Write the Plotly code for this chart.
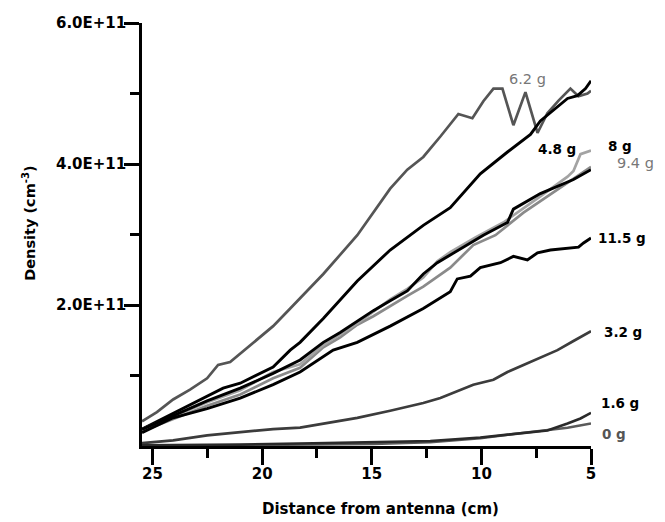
import plotly.graph_objects as go

# ---- data: distance from antenna (cm) and density (units of 1e11 cm^-3) ----
dist_6_2 = [25.48, 24.80, 24.06, 23.29, 22.51, 22.01, 21.46, 21.00, 20.23, 19.50, 18.72, 17.21, 15.66,
            14.16, 13.38, 12.65, 11.87, 11.55, 11.05, 10.41, 9.91, 9.45, 9.04, 8.54, 7.99, 7.44, 6.99,
            6.48, 5.94, 5.57, 5.16, 5.00]
dens_6_2 = [0.35, 0.48, 0.66, 0.80, 0.96, 1.15, 1.19, 1.31, 1.51, 1.70, 1.95, 2.44, 2.99,
            3.65, 3.92, 4.10, 4.39, 4.51, 4.71, 4.65, 4.89, 5.07, 5.07, 4.55, 5.02, 4.44, 4.72,
            4.90, 5.07, 4.96, 5.00, 5.04]

dist_4_8 = [25.48, 24.06, 22.51, 21.78, 21.00, 20.23, 19.50, 18.72, 18.27, 17.21, 15.66, 14.16, 12.65,
            11.42, 10.96, 10.05, 8.81, 7.76, 7.31, 6.71, 6.07, 5.62, 5.25, 5.00]
dens_4_8 = [0.24, 0.46, 0.71, 0.82, 0.89, 1.01, 1.12, 1.36, 1.47, 1.81, 2.34, 2.78, 3.13,
            3.38, 3.54, 3.86, 4.17, 4.42, 4.61, 4.76, 4.93, 4.97, 5.07, 5.18]

dist_8 = [25.48, 22.51, 21.00, 19.50, 18.27, 17.21, 16.44, 15.66, 14.93, 14.16, 13.38, 12.65, 12.01,
          11.42, 9.91, 8.81, 8.54, 7.31, 5.80, 5.00]
dens_8 = [0.235, 0.64, 0.82, 1.03, 1.22, 1.47, 1.61, 1.77, 1.92, 2.06, 2.20, 2.44, 2.60,
          2.71, 2.99, 3.17, 3.36, 3.58, 3.78, 3.92]

dist_9_4 = [25.48, 22.51, 21.00, 19.50, 18.27, 17.21, 15.66, 14.16, 13.38, 12.65, 12.01, 11.42, 10.27,
            9.00, 7.31, 6.07, 5.80, 5.48, 5.00]
dens_9_4 = [0.235, 0.62, 0.79, 1.05, 1.16, 1.43, 1.74, 2.08, 2.23, 2.39, 2.62, 2.75, 2.96,
            3.17, 3.54, 3.82, 3.90, 4.14, 4.19]

dist_9_4b = [25.48, 22.51, 21.00, 19.50, 18.27, 17.21, 16.44, 15.66, 14.93, 14.16, 13.38, 12.65, 11.42,
             10.37, 9.36, 8.08, 6.53, 5.48, 5.00]
dens_9_4b = [0.21, 0.57, 0.73, 0.96, 1.11, 1.40, 1.54, 1.72, 1.84, 1.99, 2.13, 2.26, 2.53,
             2.85, 2.99, 3.31, 3.64, 3.86, 3.96]

dist_11_5 = [25.48, 24.06, 22.51, 21.00, 19.50, 18.27, 16.76, 15.66, 14.16, 12.65, 11.42, 11.10, 10.50,
             10.05, 9.13, 8.54, 7.90, 7.44, 6.85, 6.07, 5.57, 5.34, 5.00]
dens_11_5 = [0.19, 0.40, 0.53, 0.68, 0.87, 1.05, 1.36, 1.47, 1.70, 1.95, 2.19, 2.37, 2.41,
             2.53, 2.60, 2.69, 2.64, 2.74, 2.78, 2.81, 2.82, 2.88, 2.95]

dist_3_2 = [25.48, 24.06, 22.51, 21.00, 19.50, 18.27, 17.21, 15.66, 14.16, 12.65, 11.87, 11.10, 10.37,
            9.45, 8.81, 8.08, 7.31, 6.53, 5.80, 5.00]
dens_3_2 = [0.04, 0.08, 0.15, 0.19, 0.24, 0.26, 0.32, 0.40, 0.50, 0.61, 0.68, 0.78, 0.87,
            0.94, 1.05, 1.15, 1.26, 1.36, 1.49, 1.63]

dist_1_6 = [25.48, 21.00, 17.67, 12.33, 10.05, 8.54, 6.99, 6.07, 5.48, 5.00]
dens_1_6 = [0.01, 0.02, 0.04, 0.07, 0.12, 0.17, 0.22, 0.32, 0.39, 0.47]

dist_0 = [25.48, 21.00, 14.93, 12.33, 10.05, 8.54, 7.31, 6.07, 5.00]
dens_0 = [0.0, 0.01, 0.03, 0.055, 0.11, 0.17, 0.22, 0.26, 0.32]

x_ticks = [25, 20, 15, 10, 5]
x_minor = [22.5, 17.5, 12.5, 7.5]
y_ticks = [2.0, 4.0, 6.0]
y_tick_text = ["2.0E+11", "4.0E+11", "6.0E+11"]
y_minor = [1.0, 3.0, 5.0]
SCALE = 1e11
X_RANGE = [25.48, 5.0]
Y_RANGE = [0.0, 6.0]

series = [
    ("6.2 g", dist_6_2, dens_6_2, "#555555", 2.7),
    ("4.8 g", dist_4_8, dens_4_8, "#000000", 2.9),
    ("9.4 g b", dist_9_4b, dens_9_4b, "#8a8a8a", 2.7),
    ("9.4 g", dist_9_4, dens_9_4, "#a3a3a3", 2.7),
    ("8 g", dist_8, dens_8, "#000000", 2.9),
    ("11.5 g", dist_11_5, dens_11_5, "#000000", 2.9),
    ("3.2 g", dist_3_2, dens_3_2, "#3c3c3c", 2.7),
    ("0 g", dist_0, dens_0, "#5a5a5a", 2.6),
    ("1.6 g", dist_1_6, dens_1_6, "#2a2a2a", 2.6),
]

# label text, position (cm, density 1e11) of label's left/middle, colour, bold
labels = [
    ("6.2 g", 8.81, 5.20, "#777777", False),
    ("4.8 g", 7.53, 4.21, "#000000", True),
    ("8 g", 4.30, 4.26, "#000000", True),
    ("9.4 g", 3.90, 4.01, "#777777", False),
    ("11.5 g", 4.75, 2.95, "#000000", True),
    ("3.2 g", 4.50, 1.62, "#000000", True),
    ("1.6 g", 4.65, 0.61, "#000000", True),
    ("0 g", 4.60, 0.17, "#555555", True),
]

FONT = "DejaVu Sans"

# page has an 8px body margin; figure is sized so that it fits the 665x522 window
W, H = 657, 514
ML, MR, MT, MB = 134, 74, 6, 76
PW, PH = W - ML - MR, H - MT - MB


def page_x(p):  # page pixel -> paper x
    return (p - 8 - ML) / PW


def page_y(p):  # page pixel -> paper y
    return (H - MB - (p - 8)) / PH


def data_x(cm):
    return (X_RANGE[0] - cm) / (X_RANGE[0] - X_RANGE[1])


def data_y(v):
    return (v - Y_RANGE[0]) / (Y_RANGE[1] - Y_RANGE[0])


fig = go.Figure()
for name, xs, ys, col, w in series:
    fig.add_trace(go.Scatter(x=xs, y=[v * SCALE for v in ys], mode="lines", name=name,
                             line=dict(color=col, width=w), showlegend=False))

for text, lx, ly, col, bold in labels:
    fig.add_annotation(x=data_x(lx), y=data_y(ly), xref="paper", yref="paper", text=text,
                       showarrow=False, xanchor="left", yanchor="middle",
                       font=dict(family=FONT, size=13.5 if bold else 14.5, color=col,
                                 weight="bold" if bold else "normal"))

fig.add_annotation(x=page_x(380), y=page_y(510), xref="paper", yref="paper",
                   xanchor="center", yanchor="middle",
                   text="Distance from antenna (cm)", showarrow=False,
                   font=dict(family=FONT, size=15, color="black", weight="bold"))
fig.add_annotation(x=page_x(29), y=page_y(218), xref="paper", yref="paper",
                   xanchor="center", yanchor="middle",
                   text="Density (cm<sup>-3</sup>)", textangle=-90, showarrow=False,
                   font=dict(family=FONT, size=14.5, color="black", weight="bold"))

fig.update_layout(
    width=W, height=H,
    margin=dict(l=ML, r=MR, t=MT, b=MB, pad=0),
    plot_bgcolor="white", paper_bgcolor="white",
    font=dict(family=FONT, color="black"),
)

fig.update_xaxes(
    range=[X_RANGE[0], X_RANGE[1]], showline=True, linewidth=2.5, linecolor="black",
    ticks="outside", ticklen=16, tickwidth=2.5, tickcolor="black",
    tickmode="array", tickvals=x_ticks, ticktext=[str(t) for t in x_ticks],
    tickfont=dict(family=FONT, size=15, color="black", weight="bold"),
    ticklabelstandoff=-4, ticklabeloverflow="allow",
    showgrid=False, zeroline=False,
    minor=dict(tickmode="array", tickvals=x_minor, ticks="outside", ticklen=9, tickwidth=2.5,
               tickcolor="black", showgrid=False),
)
fig.update_yaxes(
    range=[Y_RANGE[0] * SCALE, Y_RANGE[1] * SCALE], showline=True, linewidth=2.5, linecolor="black",
    ticks="outside", ticklen=15, tickwidth=2.5, tickcolor="black",
    tickmode="array", tickvals=[v * SCALE for v in y_ticks], ticktext=y_tick_text,
    tickfont=dict(family=FONT, size=15, color="black", weight="bold"),
    ticklabelstandoff=-5, ticklabeloverflow="allow",
    showgrid=False, zeroline=False,
    minor=dict(tickmode="array", tickvals=[v * SCALE for v in y_minor], ticks="outside", ticklen=9,
               tickwidth=2.5, tickcolor="black", showgrid=False),
)

fig.write_html("out.html")
